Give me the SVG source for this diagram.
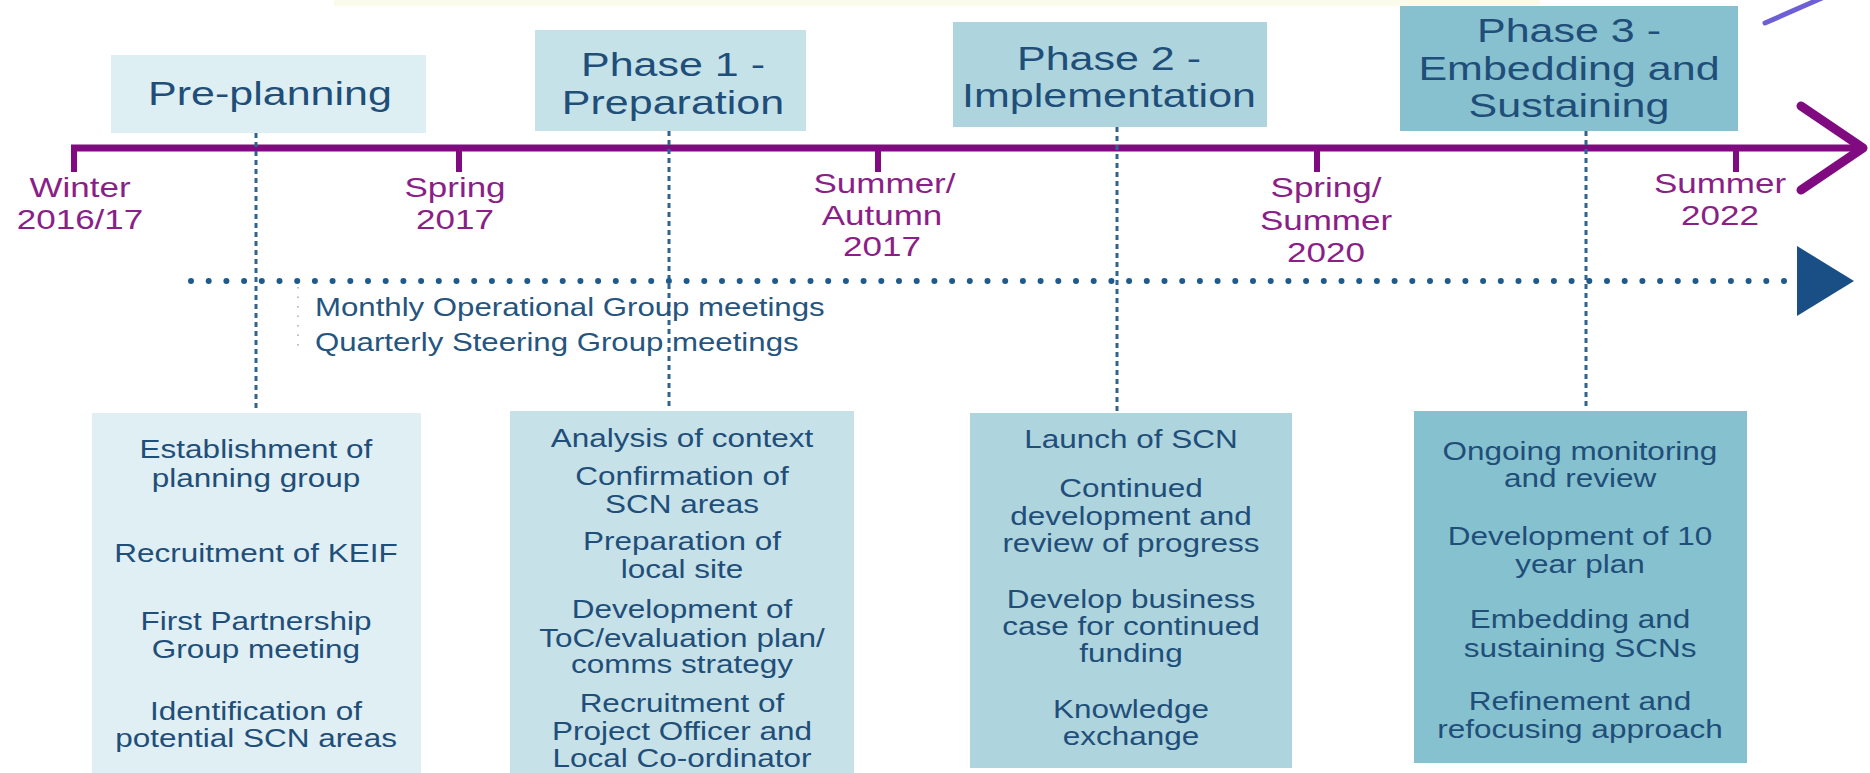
<svg xmlns="http://www.w3.org/2000/svg" width="1870" height="773" viewBox="0 0 1870 773">
<style>
.hdr{font-family:"Liberation Sans",Arial,sans-serif;font-size:34px;fill:#1f4e79;text-anchor:middle}
.tl{font-family:"Liberation Sans",Arial,sans-serif;font-size:28px;fill:#8a1f88;text-anchor:middle}
.bx{font-family:"Liberation Sans",Arial,sans-serif;font-size:25px;fill:#1f4e79;text-anchor:middle}
.mt{font-family:"Liberation Sans",Arial,sans-serif;font-size:26px;fill:#25557f}
.vd{stroke:#2f6390;stroke-width:3;stroke-dasharray:5 4;fill:none}
.tick{stroke:#800a80;stroke-width:6;fill:none}
</style>
<rect width="1870" height="773" fill="#ffffff"/>
<rect x="334" y="0" width="1206" height="6" fill="#fbfbec"/>
<line x1="1765" y1="23" x2="1822" y2="-2" stroke="#6d5fd5" stroke-width="5" stroke-linecap="round"/>

<g id="timeline">
<line x1="71" y1="148" x2="1862" y2="148" stroke="#800a80" stroke-width="7"/>
<polyline points="1801,106 1863,148 1801,190" fill="none" stroke="#800a80" stroke-width="9" stroke-linecap="round" stroke-linejoin="round"/>
<line class="tick" x1="74" y1="146" x2="74" y2="172"/>
<line class="tick" x1="459" y1="146" x2="459" y2="172"/>
<line class="tick" x1="878" y1="146" x2="878" y2="172"/>
<line class="tick" x1="1317" y1="146" x2="1317" y2="172"/>
<line class="tick" x1="1736" y1="146" x2="1736" y2="172"/>
</g>

<g id="labels">
<g transform="translate(80 0) scale(1.25 1)"><text class="tl" x="0" y="197">Winter</text><text class="tl" x="0" y="229">2016/17</text></g>
<g transform="translate(455 0) scale(1.25 1)"><text class="tl" x="0" y="197">Spring</text><text class="tl" x="0" y="229">2017</text></g>
<g transform="translate(882 0) scale(1.25 1)"><text class="tl" x="2" y="193">Summer/</text><text class="tl" x="0" y="225">Autumn</text><text class="tl" x="0" y="256">2017</text></g>
<g transform="translate(1326 0) scale(1.25 1)"><text class="tl" x="0" y="197">Spring/</text><text class="tl" x="0" y="230">Summer</text><text class="tl" x="0" y="262">2020</text></g>
<g transform="translate(1720 0) scale(1.25 1)"><text class="tl" x="0" y="193">Summer</text><text class="tl" x="0" y="225">2022</text></g>
</g>

<g id="connectors">
<line class="vd" x1="256" y1="133" x2="256" y2="412"/>
<line class="vd" x1="669" y1="131" x2="669" y2="410"/>
<line class="vd" x1="1117" y1="127" x2="1117" y2="412"/>
<line class="vd" x1="1586" y1="131" x2="1586" y2="410"/>
<line x1="191" y1="281" x2="1790" y2="281" stroke="#1f5a8c" stroke-width="6" stroke-linecap="round" stroke-dasharray="0 17.7"/>
<polygon points="1797,246 1854,281 1797,316" fill="#1a4f86"/>
<line x1="298" y1="287" x2="298" y2="352" stroke="#a8a8a8" stroke-width="1.5" stroke-dasharray="1.5 8"/>
</g>

<g id="meetings" transform="translate(315 0) scale(1.2 1)">
<text class="mt" x="0" y="316">Monthly Operational Group meetings</text>
<text class="mt" x="0" y="351">Quarterly Steering Group meetings</text>
</g>

<g id="pre-planning">
<rect x="111" y="55" width="315" height="78" fill="#deeff3"/>
<g transform="translate(270 0) scale(1.265 1)"><text class="hdr" x="0" y="105">Pre-planning</text></g>
</g>
<g id="phase1">
<rect x="535" y="30" width="271" height="101" fill="#c6e2e9"/>
<g transform="translate(673 0) scale(1.265 1)"><text class="hdr" x="0" y="76">Phase 1 -</text><text class="hdr" x="0" y="114">Preparation</text></g>
</g>
<g id="phase2">
<rect x="953" y="22" width="314" height="105" fill="#aed5de"/>
<g transform="translate(1109 0) scale(1.265 1)"><text class="hdr" x="0" y="70">Phase 2 -</text><text class="hdr" x="0" y="107">Implementation</text></g>
</g>
<g id="phase3">
<rect x="1400" y="6" width="338" height="125" fill="#87c0cf"/>
<g transform="translate(1569 0) scale(1.265 1)"><text class="hdr" x="0" y="42">Phase 3 -</text><text class="hdr" x="0" y="80">Embedding and</text><text class="hdr" x="0" y="117">Sustaining</text></g>
</g>

<g id="box-preplanning">
<rect x="92" y="413" width="329" height="360" fill="#e0eff3"/>
<g transform="translate(256 0) scale(1.26 1)">
<text class="bx" x="0" y="458">Establishment of</text>
<text class="bx" x="0" y="487">planning group</text>
<text class="bx" x="0" y="562">Recruitment of KEIF</text>
<text class="bx" x="0" y="630">First Partnership</text>
<text class="bx" x="0" y="658">Group meeting</text>
<text class="bx" x="0" y="720">Identification of</text>
<text class="bx" x="0" y="747">potential SCN areas</text>
</g>
</g>
<g id="box-phase1">
<rect x="510" y="411" width="344" height="362" fill="#c6e1e8"/>
<g transform="translate(682 0) scale(1.26 1)">
<text class="bx" x="0" y="447">Analysis of context</text>
<text class="bx" x="0" y="485">Confirmation of</text>
<text class="bx" x="0" y="513">SCN areas</text>
<text class="bx" x="0" y="550">Preparation of</text>
<text class="bx" x="0" y="578">local site</text>
<text class="bx" x="0" y="618">Development of</text>
<text class="bx" x="0" y="647">ToC/evaluation plan/</text>
<text class="bx" x="0" y="673">comms strategy</text>
<text class="bx" x="0" y="712">Recruitment of</text>
<text class="bx" x="0" y="740">Project Officer and</text>
<text class="bx" x="0" y="767">Local Co-ordinator</text>
</g>
</g>
<g id="box-phase2">
<rect x="970" y="413" width="322" height="355" fill="#aed4de"/>
<g transform="translate(1131 0) scale(1.26 1)">
<text class="bx" x="0" y="448">Launch of SCN</text>
<text class="bx" x="0" y="497">Continued</text>
<text class="bx" x="0" y="525">development and</text>
<text class="bx" x="0" y="552">review of progress</text>
<text class="bx" x="0" y="608">Develop business</text>
<text class="bx" x="0" y="635">case for continued</text>
<text class="bx" x="0" y="662">funding</text>
<text class="bx" x="0" y="718">Knowledge</text>
<text class="bx" x="0" y="745">exchange</text>
</g>
</g>
<g id="box-phase3">
<rect x="1414" y="411" width="333" height="352" fill="#86c1cf"/>
<g transform="translate(1580 0) scale(1.26 1)">
<text class="bx" x="0" y="460">Ongoing monitoring</text>
<text class="bx" x="0" y="487">and review</text>
<text class="bx" x="0" y="545">Development of 10</text>
<text class="bx" x="0" y="573">year plan</text>
<text class="bx" x="0" y="628">Embedding and</text>
<text class="bx" x="0" y="657">sustaining SCNs</text>
<text class="bx" x="0" y="710">Refinement and</text>
<text class="bx" x="0" y="738">refocusing approach</text>
</g>
</g>
</svg>
